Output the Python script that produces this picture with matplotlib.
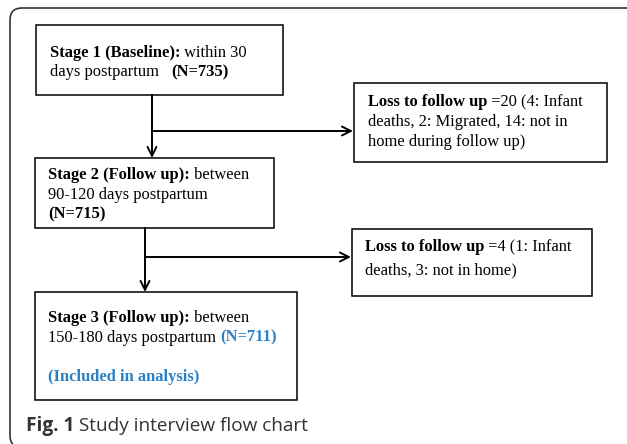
import matplotlib
matplotlib.use("Agg")
import matplotlib.pyplot as plt
from matplotlib.patches import Rectangle
from matplotlib.path import Path
from matplotlib.patches import PathPatch

BLUE = "#2a80c6"
SERIF = "Liberation Serif"

# text lines per box: each line is a list of (text, bold, color) runs
stage1_lines = [
    [("Stage 1 (Baseline):", True, "black"), (" within 30", False, "black")],
    [("days postpartum   ", False, "black"), ("(N=735)", True, "black")],
]
stage2_lines = [
    [("Stage 2 (Follow up):", True, "black"), (" between", False, "black")],
    [("90-120 days postpartum", False, "black")],
    [("(N=715)", True, "black")],
]
stage3_lines = [
    [("Stage 3 (Follow up):", True, "black"), (" between", False, "black")],
    [("150-180 days postpartum ", False, "black"), ("(N=711)", True, BLUE)],
    [],
    [("(Included in analysis)", True, BLUE)],
]
loss1_lines = [
    [("Loss to follow up", True, "black"), (" =20 (4: Infant", False, "black")],
    [("deaths, 2: Migrated, 14: not in", False, "black")],
    [("home during follow up)", False, "black")],
]
loss2_lines = [
    [("Loss to follow up", True, "black"), (" =4 (1: Infant", False, "black")],
    [("deaths, 3: not in home)", False, "black")],
]

# box geometry in pixels: x0, y0 (top), x1, y1 (bottom)
boxes = {
    "s1": (36, 25, 283, 95),
    "s2": (35, 158, 274, 228),
    "s3": (35, 292, 297, 400),
    "l1": (354, 83, 607, 162),
    "l2": (352, 229, 592, 296),
}

fig = plt.figure(figsize=(6.27, 4.44), dpi=100)
ax = fig.add_axes([0, 0, 1, 1])
ax.set_xlim(0, 627)
ax.set_ylim(444, 0)
ax.axis("off")
renderer = fig.canvas.get_renderer()

# outer frame (top-left rounded corner, open to the right)
r = 12
verts = [(627, 8), (10 + r, 8), (10, 8), (10, 8 + r), (10, 436), (10, 442), (13, 444)]
codes = [Path.MOVETO, Path.LINETO, Path.CURVE3, Path.CURVE3, Path.LINETO, Path.CURVE3, Path.CURVE3]
ax.add_patch(PathPatch(Path(verts, codes), fill=False, lw=1.2, ec="#333333"))

for key, (x0, y0, x1, y1) in boxes.items():
    ax.add_patch(Rectangle((x0, y0), x1 - x0, y1 - y0, fill=False, lw=1.1, ec="black"))


def draw_lines(lines, x, y, dy, size=11.9):
    for i, runs in enumerate(lines):
        cx = x
        for txt, bold, col in runs:
            t = ax.text(cx, y + i * dy, txt, fontsize=size, family=SERIF,
                        fontweight="bold" if bold else "normal", color=col,
                        va="baseline", ha="left")
            bb = t.get_window_extent(renderer)
            cx = cx + bb.width  # pixel units == data units here


draw_lines(stage1_lines, 50, 57, 19.5)
draw_lines(stage2_lines, 48, 179, 19.5)
draw_lines(stage3_lines, 48, 322, 19.5)
draw_lines(loss1_lines, 368, 106, 20)
draw_lines(loss2_lines, 365, 251, 23)

# connectors
aprops = dict(arrowstyle="->", lw=1.4, color="black", mutation_scale=16,
              shrinkA=0, shrinkB=0)
ax.plot([152, 152], [95, 131], color="black", lw=1.4)
ax.annotate("", xy=(152, 158), xytext=(152, 131), arrowprops=aprops)
ax.annotate("", xy=(353, 131), xytext=(152, 131), arrowprops=aprops)
ax.plot([145, 145], [228, 257], color="black", lw=1.4)
ax.annotate("", xy=(145, 292), xytext=(145, 257), arrowprops=aprops)
ax.annotate("", xy=(351, 257), xytext=(145, 257), arrowprops=aprops)

# caption
t = ax.text(26, 431, "Fig. 1", fontsize=13.7, family="Open Sans", fontweight="bold",
            color="#333333", va="baseline")
bb = t.get_window_extent(renderer)
ax.text(26 + bb.width, 431, " Study interview flow chart", fontsize=13.7,
        family="Open Sans", color="#333333", va="baseline")

fig.savefig("out.png", dpi=100)
